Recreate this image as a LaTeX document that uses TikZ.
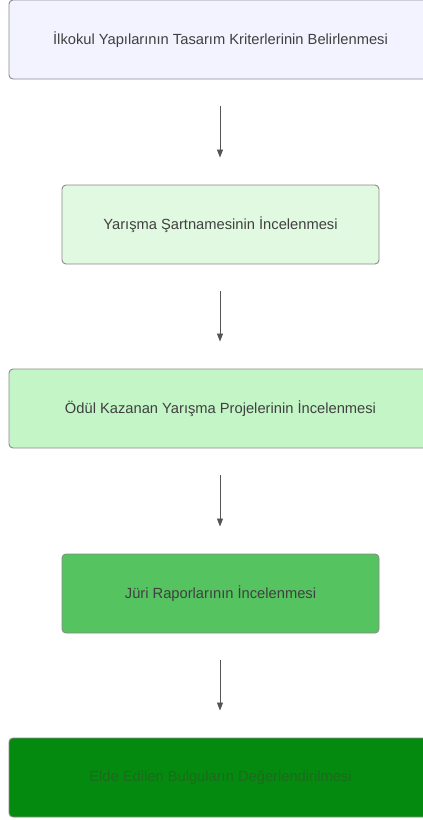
\documentclass[tikz,border=0pt]{standalone}
\usepackage{fontspec}
\setmainfont{Liberation Sans}
\usetikzlibrary{arrows.meta}
\definecolor{f1}{HTML}{F3F2FF}
\definecolor{f2}{HTML}{E0F9E0}
\definecolor{f3}{HTML}{C3F5C6}
\definecolor{f4}{HTML}{55C35F}
\definecolor{f5}{HTML}{048A0E}
\definecolor{bd}{HTML}{8A8A8A}
\definecolor{tx}{HTML}{404040}
\definecolor{t5}{HTML}{1E6A1E}
\definecolor{ar}{HTML}{555555}
\begin{document}
\begin{tikzpicture}[x=1pt,y=1pt,
  box/.style={draw=bd, line width=0.9pt, rounded corners=4pt, minimum height=79pt, inner sep=0pt, text=tx, font=\fontsize{14.7}{17}\selectfont},
  wide/.style={box, minimum width=423pt},
  narrow/.style={box, minimum width=317pt},
  conn/.style={draw=ar, line width=0.8pt, -{Triangle[length=8pt,width=6pt]}, shorten <=27pt, shorten >=27pt}]
\useasboundingbox (0,0) rectangle (423,-820);
\node[wide, fill=f1] (a) at (220.5,-39.5) {İlkokul Yapılarının Tasarım Kriterlerinin Belirlenmesi};
\node[narrow, fill=f2] (b) at (220.5,-224.5) {Yarışma Şartnamesinin İncelenmesi};
\node[wide, fill=f3] (c) at (220.5,-408.5) {Ödül Kazanan Yarışma Projelerinin İncelenmesi};
\node[narrow, fill=f4] (d) at (220.5,-593.5) {Jüri Raporlarının İncelenmesi};
\node[wide, fill=f5, text=t5] (e) at (220.5,-777.5) {Elde Edilen Bulguların Değerlendirilmesi};
\draw[conn] (a.south -| 220,0) -- (b.north -| 220,0);
\draw[conn] (b.south -| 220,0) -- (c.north -| 220,0);
\draw[conn] (c.south -| 220,0) -- (d.north -| 220,0);
\draw[conn] (d.south -| 220,0) -- (e.north -| 220,0);
\end{tikzpicture}
\end{document}
